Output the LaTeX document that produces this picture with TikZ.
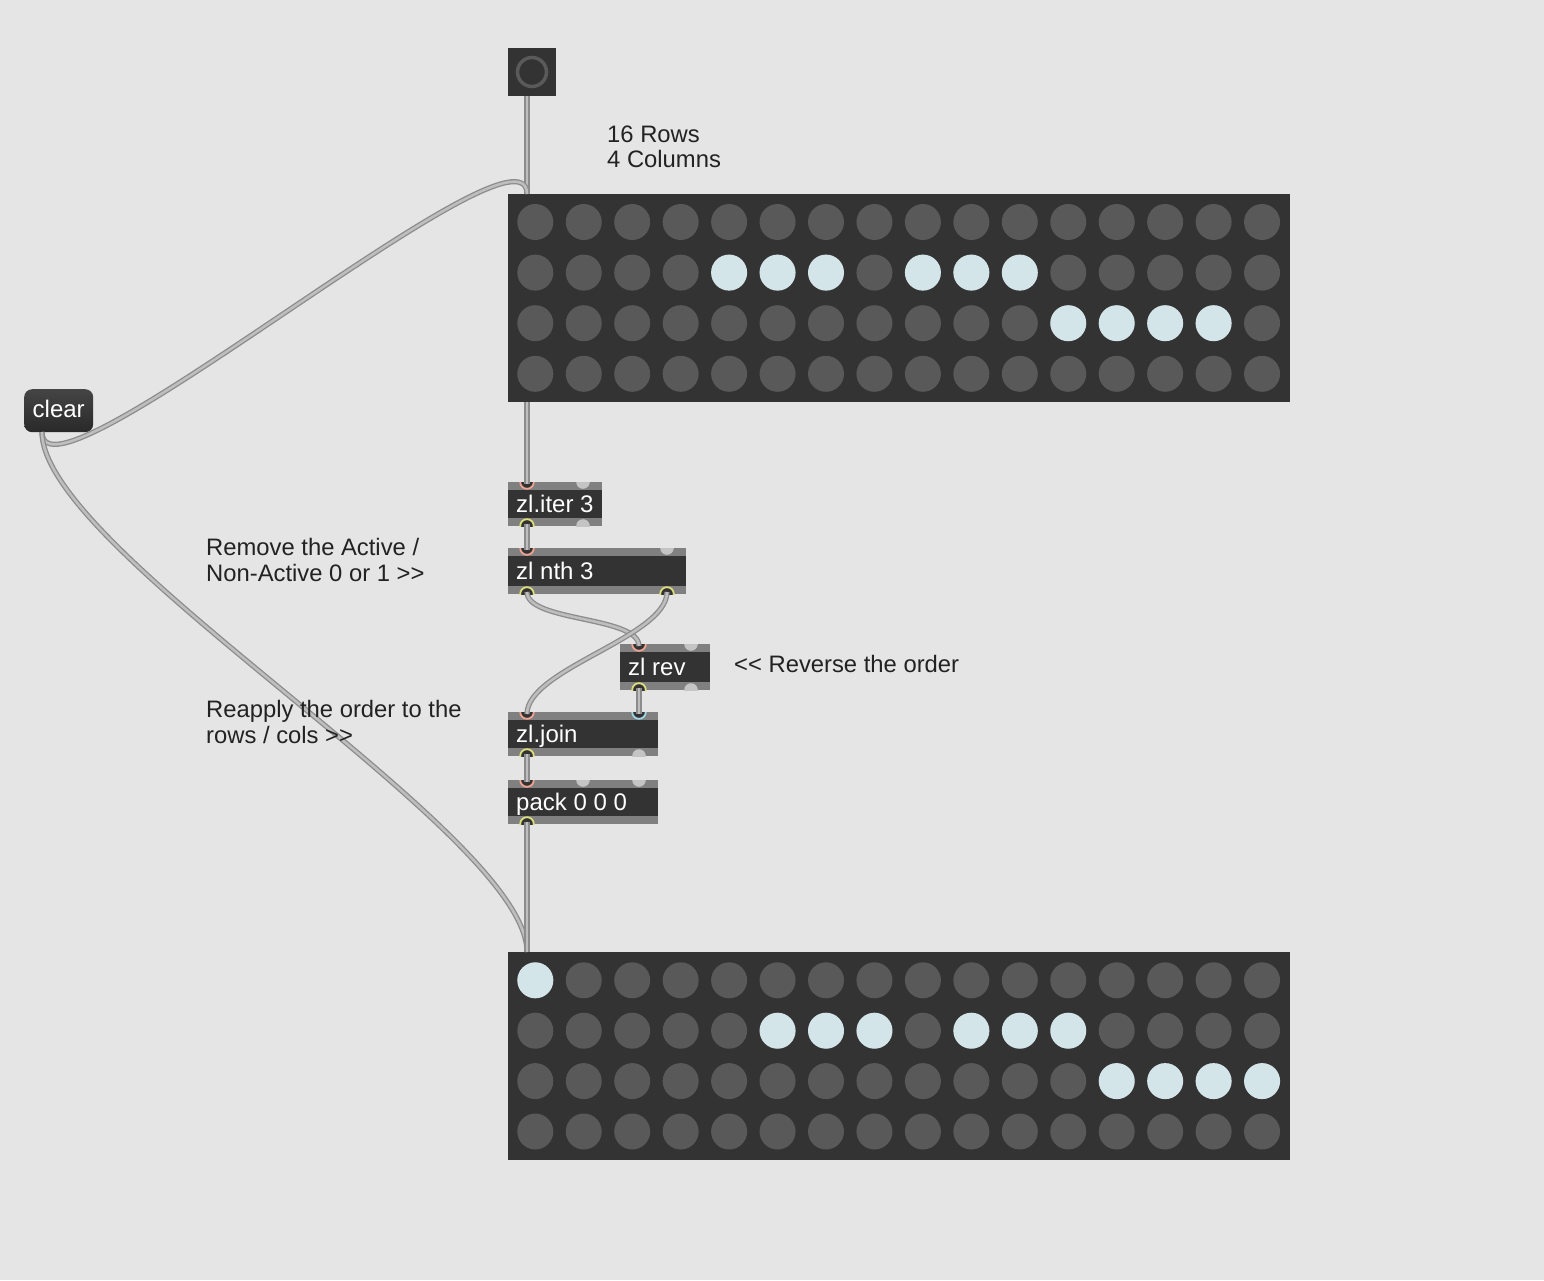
\documentclass[tikz,border=0pt]{standalone}
\usepackage{fontspec}
\setmainfont{Liberation Sans}
\definecolor{bgc}{HTML}{E5E5E5}
\definecolor{matc}{HTML}{333333}
\definecolor{offc}{HTML}{595959}
\definecolor{onc}{HTML}{D4E5EA}
\definecolor{stripc}{HTML}{808080}
\definecolor{objdark}{HTML}{333333}
\definecolor{portgray}{HTML}{C4C4C4}
\definecolor{pinkc}{HTML}{F2A391}
\definecolor{yellowc}{HTML}{DEDE7A}
\definecolor{bluec}{HTML}{9FD6E6}
\definecolor{cableout}{HTML}{8C8C8C}
\definecolor{cablein}{HTML}{BEBEBE}
\definecolor{txtc}{HTML}{222222}
\definecolor{ringc}{HTML}{5A5A5A}
\newcommand\mxobj[6]{% name, x, y, w, h, label
  \node[objbox, minimum width=#4pt, minimum height=#5pt, anchor=north west] (#1) at (#2,#3) {};
  \fill[objdark] (#2,#3+8) rectangle (#2+#4,#3+#5-8);
}
\newcommand\mxport[4]{% box, x, y, style
  \begin{scope}
    \clip (#1.north west) rectangle (#1.south east);
    \filldraw[#4] (#2,#3) circle[radius=6.8];
  \end{scope}
}
\begin{document}
\begin{tikzpicture}[x=1pt,y=-1pt,
  objbox/.style={rectangle, draw=none, fill=stripc, inner sep=0pt, outer sep=0pt},
  objtext/.style={anchor=base west, inner sep=0pt, text=white, font=\fontsize{24}{26}\selectfont},
  cmt/.style={anchor=base west, inner sep=0pt, text=txtc, font=\fontsize{23.8}{26}\selectfont},
  pinkport/.style={fill=objdark, draw=pinkc, line width=1.8pt},
  yellowport/.style={fill=objdark, draw=yellowc, line width=1.8pt},
  blueport/.style={fill=objdark, draw=bluec, line width=1.8pt},
  grayport/.style={fill=portgray, draw=none},
  cable/.style={draw=cableout, line width=1.3pt, double=cablein, double distance=2.6pt},
  matbox/.style={rectangle, fill=matc, draw=none, inner sep=0pt, outer sep=0pt, minimum width=782pt, minimum height=207.5pt, anchor=north west}
]
\useasboundingbox (0,0) rectangle (1544,1280);
\fill[bgc] (0,0) rectangle (1544,1280);

% top matrix
\node[matbox] (mtop) at (508,194) {};
\foreach \r in {0,...,3} \foreach \c in {0,...,15}
  \fill[offc] (535.3+48.45*\c, 222+50.6*\r) circle[radius=18];
\foreach \c/\r in {4/1,5/1,6/1,8/1,9/1,10/1,11/2,12/2,13/2,14/2}
  \fill[onc] (535.3+48.45*\c, 222+50.6*\r) circle[radius=18];

% bottom matrix
\node[matbox] (mbot) at (508,952) {};
\foreach \r in {0,...,3} \foreach \c in {0,...,15}
  \fill[offc] (535.3+48.45*\c, 980.3+50.4*\r) circle[radius=18];
\foreach \c/\r in {0/0,5/1,6/1,7/1,9/1,10/1,11/1,12/2,13/2,14/2,15/2}
  \fill[onc] (535.3+48.45*\c, 980.3+50.4*\r) circle[radius=18];

% button
\node[rectangle, fill=matc, inner sep=0pt, minimum width=48pt, minimum height=48pt, anchor=north west] (btn) at (508,48) {};
\node[circle, draw=ringc, line width=3.5pt, inner sep=0pt, minimum size=29pt] (btnring) at (532,72) {};

% clear message
\node[rectangle, rounded corners=8pt, top color=black!73, bottom color=black!84, draw=none, inner sep=0pt, minimum width=69pt, minimum height=43pt, anchor=north west] (clr) at (24,389) {};
\node[objtext] (clrtxt) at (32.5,417) {clear};

% objects
\mxobj{iter}{508}{482}{94}{44}{}
\mxobj{nth}{508}{548}{178}{46}{}
\mxobj{rev}{620}{644}{90}{46}{}
\mxobj{join}{508}{712}{150}{44}{}
\mxobj{pack}{508}{780}{150}{44}{}

\mxport{iter}{527}{482}{pinkport}
\mxport{iter}{583}{482}{grayport}
\mxport{iter}{527}{526}{yellowport}
\mxport{iter}{583}{526}{grayport}

\mxport{nth}{527}{548}{pinkport}
\mxport{nth}{667}{548}{grayport}
\mxport{nth}{527}{594}{yellowport}
\mxport{nth}{667}{594}{yellowport}

\mxport{rev}{639}{644}{pinkport}
\mxport{rev}{691}{644}{grayport}
\mxport{rev}{639}{690}{yellowport}
\mxport{rev}{691}{690}{grayport}

\mxport{join}{527}{712}{pinkport}
\mxport{join}{639}{712}{blueport}
\mxport{join}{527}{756}{yellowport}
\mxport{join}{639}{756}{grayport}

\mxport{pack}{527}{780}{pinkport}
\mxport{pack}{583}{780}{grayport}
\mxport{pack}{639}{780}{grayport}
\mxport{pack}{527}{824}{yellowport}

\node[objtext] (itert) at (516,512) {zl.iter 3};
\node[objtext] (ntht) at (516,579) {zl nth 3};
\node[objtext] (revt) at (628,675) {zl rev};
\node[objtext] (joint) at (516,742) {zl.join};
\node[objtext] (packt) at (516,810) {pack 0 0 0};

% port coordinates
\coordinate (btn-out) at (527,96);
\coordinate (mtop-in) at (527,194);
\coordinate (mtop-out) at (527,401.5);
\coordinate (clr-out) at (42,432);
\coordinate (iter-in) at (527,484);
\coordinate (iter-out) at (527,524);
\coordinate (nth-in) at (527,550);
\coordinate (nth-out1) at (527,592);
\coordinate (nth-out2) at (667,592);
\coordinate (rev-in) at (639,646);
\coordinate (rev-out) at (639,688);
\coordinate (join-in1) at (527,714);
\coordinate (join-in2) at (639,714);
\coordinate (join-out) at (527,754);
\coordinate (pack-in) at (527,782);
\coordinate (pack-out) at (527,822);
\coordinate (mbot-in) at (527,952);

% cables
\draw[cable] (btn-out) -- (mtop-in);
\draw[cable] (clr-out) .. controls +(0,88) and +(0,-88) .. (mtop-in);
\draw[cable] (clr-out) .. controls +(0,120) and +(0,-120) .. (mbot-in);
\draw[cable] (mtop-out) -- (iter-in);
\draw[cable] (iter-out) -- (nth-in);
\draw[cable] (nth-out1) .. controls +(0,30) and +(0,-30) .. (rev-in);
\draw[cable] (nth-out2) .. controls +(0,45) and +(0,-45) .. (join-in1);
\draw[cable] (rev-out) -- (join-in2);
\draw[cable] (join-out) -- (pack-in);
\draw[cable] (pack-out) -- (mbot-in);

% comments
\node[cmt] (c1a) at (607,142.3) {16 Rows};
\node[cmt] (c1b) at (607,167.3) {4 Columns};
\node[cmt] (c2a) at (206,555.7) {Remove the Active /};
\node[cmt] (c2b) at (206,581.7) {Non-Active 0 or 1 >{}>};
\node[cmt] (c3) at (734,672) {<{}< Reverse the order};
\node[cmt] (c4a) at (206,717.5) {Reapply the order to the};
\node[cmt] (c4b) at (206,743.5) {rows / cols >{}>};
\end{tikzpicture}
\end{document}
